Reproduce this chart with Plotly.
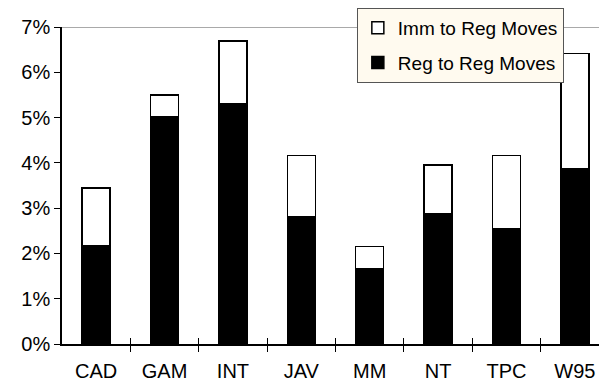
import plotly.graph_objects as go

categories = ["CAD", "GAM", "INT", "JAV", "MM", "NT", "TPC", "W95"]
reg_to_reg = [2.16, 5.01, 5.30, 2.80, 1.66, 2.88, 2.55, 3.88]
imm_to_reg = [1.28, 0.49, 1.39, 1.36, 0.49, 1.07, 1.61, 2.53]
y_ticks = [0, 1, 2, 3, 4, 5, 6, 7]
y_tick_labels = [f"{v}%" for v in y_ticks]

idx = list(range(len(categories)))
FONT = "Liberation Sans, Arial, sans-serif"

fig = go.Figure()
fig.add_trace(go.Bar(
    x=idx, y=reg_to_reg, name="Reg to Reg Moves",
    marker=dict(color="black", line=dict(color="black", width=1.5)),
    width=0.41, legendgroup="reg", legendrank=2,
))
fig.add_trace(go.Bar(
    x=idx, y=imm_to_reg, name="Imm to Reg Moves",
    marker=dict(color="white", line=dict(color="black", width=1.5)),
    width=0.41, legendgroup="imm", legendrank=1,
))
# invisible helper trace so the overlay axis (inside tick marks) is drawn
fig.add_trace(go.Scatter(x=[0], y=[0], xaxis="x2", mode="markers",
                         marker=dict(opacity=0), showlegend=False, hoverinfo="skip"))

boundaries = [i + 0.5 for i in range(len(categories) - 1)]
xr = [-0.5, 7.47]

# page is offset by the 8px body margin; figure is sized to the visible area
fig.update_layout(
    barmode="stack",
    width=599, height=375,
    margin=dict(l=54, r=0, t=0, b=39, autoexpand=False),
    paper_bgcolor="white", plot_bgcolor="white",
    font=dict(family=FONT, size=20, color="black"),
    showlegend=True,
    legend=dict(
        x=0.541, y=1.0, xanchor="left", yanchor="top",
        bgcolor="#FFFAEF", bordercolor="#555555", borderwidth=1,
        font=dict(family=FONT, size=19, color="black"),
        traceorder="grouped", tracegroupgap=7,
        entrywidth=176, entrywidthmode="pixels",
    ),
    xaxis=dict(
        range=xr, tickvals=idx, ticktext=categories, ticks="",
        showline=True, linecolor="black", linewidth=1.5,
        showgrid=False, zeroline=False, automargin=False,
        minor=dict(tickvals=boundaries, ticks="outside", ticklen=6,
                   tickcolor="black", tickwidth=1),
        tickfont=dict(size=20), ticklabelstandoff=8,
    ),
    xaxis2=dict(
        overlaying="x", anchor="y", side="bottom", range=xr,
        tickvals=boundaries, ticks="inside", ticklen=6, tickcolor="black",
        showticklabels=False, showline=False, showgrid=False, zeroline=False,
        automargin=False,
    ),
    yaxis=dict(
        domain=[0, 317 / 336],
        range=[0, 7], tickvals=y_ticks, ticktext=y_tick_labels,
        ticks="outside", ticklen=6, tickcolor="black",
        showline=True, linecolor="black", linewidth=1.5,
        showgrid=False, zeroline=False, automargin=False,
        tickfont=dict(size=20),
    ),
    shapes=[dict(type="line", xref="paper", yref="y", x0=0, x1=1, y0=7, y1=7,
                 line=dict(color="#8c8c8c", width=1.5), layer="below")],
)

fig.write_html("out.html")
